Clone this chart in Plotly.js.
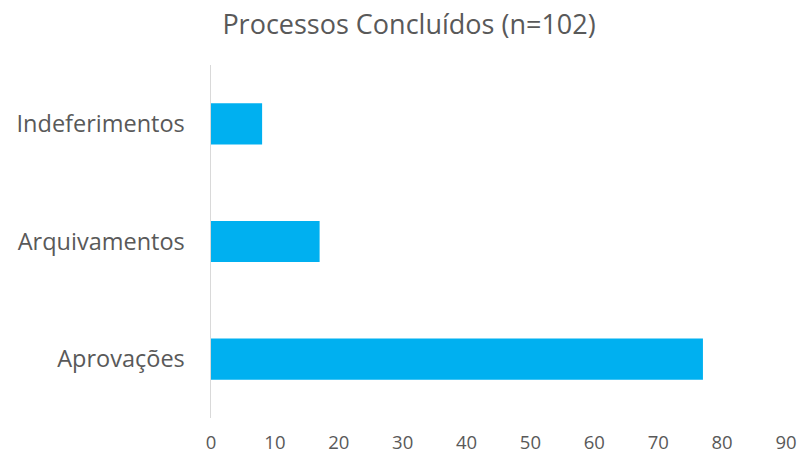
<!DOCTYPE html>
<html>
<head>
<meta charset="utf-8">
<script src="https://cdn.plot.ly/plotly-3.0.1.min.js"></script>
<style>
  html, body { margin: 0; padding: 0; background: #fff; }
  #chart { width: 802px; height: 454px; }
</style>
</head>
<body>
<div id="chart"></div>
<script>
// Processos concluídos por resultado
const categories = ['Aprovações', 'Arquivamentos', 'Indeferimentos'];
const counts = [77, 17, 8];
const xTicks = [0, 10, 20, 30, 40, 50, 60, 70, 80, 90];

const fontFamily = '"Open Sans", "Noto Sans", sans-serif';
const textGray = '#595959';

const trace = {
  type: 'bar',
  orientation: 'h',
  y: categories,
  x: counts,
  marker: { color: '#00b0f0' },
  width: 0.35,
  hoverinfo: 'x+y'
};

const layout = {
  width: 802,
  height: 454,
  margin: { l: 211, r: 16, t: 65, b: 36 },
  paper_bgcolor: '#ffffff',
  plot_bgcolor: '#ffffff',
  showlegend: false,
  title: {
    text: 'Processos Concluídos (n=102)',
    font: { family: fontFamily, size: 27, color: textGray },
    x: 0.51,
    xanchor: 'center',
    y: 0.945,
    yanchor: 'middle'
  },
  xaxis: {
    range: [0, 90],
    tickvals: xTicks,
    ticktext: xTicks.map(String),
    showgrid: false,
    zeroline: false,
    showline: false,
    ticks: '',
    ticklabelstandoff: 11,
    tickfont: { family: fontFamily, size: 18.5, color: textGray },
    fixedrange: true
  },
  yaxis: {
    type: 'category',
    categoryorder: 'array',
    categoryarray: categories,
    showgrid: false,
    zeroline: false,
    showline: true,
    linecolor: '#d9d9d9',
    linewidth: 1.5,
    ticks: '',
    ticklabelstandoff: 20,
    tickfont: { family: fontFamily, size: 23.5, color: textGray },
    fixedrange: true
  }
};

Plotly.newPlot('chart', [trace], layout, { displayModeBar: false, staticPlot: true });
</script>
</body>
</html>
